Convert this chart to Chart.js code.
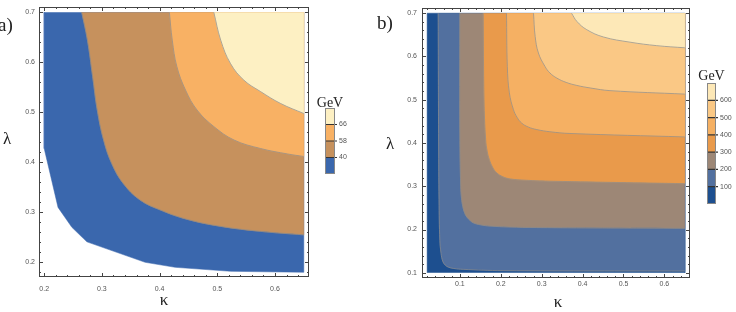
<!DOCTYPE html>
<html lang="en">
<head>
<meta charset="UTF-8">
<title>Contour maps</title>
<script src="https://cdn.jsdelivr.net/npm/chart.js"></script>
<style>
    body { margin: 0; background: #fff; }
    .panel { position: absolute; top: 0; }
    #panelA { left: 0; }
    #panelB { left: 370px; }
</style>
</head>
<body>
<div class="panel" id="panelA"><canvas id="chartA" width="370" height="312"></canvas></div>
<div class="panel" id="panelB"><canvas id="chartB" width="366" height="312"></canvas></div>
<script>
// ---- panel a) : edge of the computed region + contours 40 / 58 / 66 GeV ----
const aEdgeK = [0.2, 0.2, 0.224, 0.248, 0.274, 0.375, 0.427, 0.523, 0.65, 0.65];
const aEdgeL = [0.7, 0.427, 0.309, 0.269, 0.24, 0.199, 0.189, 0.181, 0.179, 0.7];
const a40K = [0.265, 0.275, 0.284, 0.292, 0.303, 0.317, 0.337, 0.366, 0.401, 0.448, 0.506, 0.575, 0.65];
const a40L = [0.7, 0.644, 0.571, 0.504, 0.444, 0.397, 0.357, 0.324, 0.304, 0.285, 0.271, 0.261, 0.254];
const a58K = [0.417, 0.422, 0.430, 0.445, 0.465, 0.494, 0.529, 0.575, 0.622, 0.65];
const a58L = [0.7, 0.644, 0.591, 0.544, 0.504, 0.471, 0.444, 0.427, 0.416, 0.411];
const a66K = [0.494, 0.506, 0.523, 0.546, 0.575, 0.610, 0.65];
const a66L = [0.7, 0.644, 0.597, 0.564, 0.541, 0.517, 0.497];
const aColors = ['#3a67ad', '#c6915d', '#f8b164', '#fdf0c3'];
const aLegend = ['40', '58', '66'];

// ---- panel b) : contours 100 ... 600 GeV ----
const bEdgeK = [0.02, 0.02, 0.65, 0.65];
const bEdgeL = [0.1, 0.7, 0.7, 0.1];
const b100K = [0.047, 0.048, 0.049, 0.051, 0.054, 0.058, 0.064, 0.072, 0.085, 0.108, 0.206, 0.65];
const b100L = [0.7, 0.4, 0.269, 0.175, 0.145, 0.127, 0.118, 0.113, 0.110, 0.108, 0.105, 0.104];
const b200K = [0.100, 0.100, 0.102, 0.104, 0.107, 0.111, 0.117, 0.125, 0.133, 0.150, 0.174, 0.22, 0.288, 0.65];
const b200L = [0.7, 0.423, 0.300, 0.272, 0.254, 0.240, 0.229, 0.221, 0.2155, 0.211, 0.208, 0.206, 0.2046, 0.203];
const b300K = [0.157, 0.159, 0.163, 0.167, 0.172, 0.180, 0.190, 0.205, 0.223, 0.26, 0.328, 0.65];
const b300L = [0.7, 0.5, 0.408, 0.380, 0.362, 0.344, 0.331, 0.322, 0.317, 0.314, 0.3116, 0.306];
const b400K = [0.214, 0.216, 0.221, 0.231, 0.240, 0.251, 0.267, 0.288, 0.32, 0.369, 0.65];
const b400L = [0.7, 0.577, 0.516, 0.477, 0.459, 0.446, 0.437, 0.431, 0.426, 0.422, 0.414];
const b500K = [0.280, 0.284, 0.292, 0.308, 0.320, 0.337, 0.360, 0.386, 0.42, 0.467, 0.65];
const b500L = [0.7, 0.6465, 0.608, 0.577, 0.562, 0.55, 0.54, 0.533, 0.527, 0.521, 0.513];
const b600K = [0.373, 0.386, 0.41, 0.451, 0.516, 0.581, 0.65];
const b600L = [0.7, 0.681, 0.662, 0.645, 0.633, 0.625, 0.62];
const bColors = ['#1d4f8f', '#52709f', '#9d8776', '#e99a4b', '#f5b063', '#fac885', '#fde8b7'];
const bLegend = ['100', '200', '300', '400', '500', '600'];

const K_MAX = 0.65, L_MAX = 0.7;
const SMOOTH = 0.4;
const lineColor = 'rgba(140,140,140,0.7)';
const tickFont = { family: 'Liberation Sans', size: 7, lineHeight: 1.2 };
const serif = '"Liberation Serif", "DejaVu Serif", serif';

const isMajor = v => Math.abs(v * 10 - Math.round(v * 10)) < 1e-6;

function zip(ks, ls) { return ks.map((k, i) => ({ x: k, y: ls[i] })); }
// region above a contour: the curve, then along the right edge to the top-right corner.
// the end point is repeated so the spline keeps the same shape as the contour line
function upperSet(ks, ls) {
    const p = zip(ks, ls);
    return p.concat([{ x: ks[ks.length - 1], y: ls[ls.length - 1] }, { x: K_MAX, y: L_MAX }]);
}

function region(points, color, order, tension) {
    return { data: points, fill: 'shape', backgroundColor: color, borderColor: color,
             borderWidth: 0.5, pointRadius: 0, tension: tension, order: order };
}
function contour(points) {
    return { data: points, fill: false, borderColor: lineColor, borderWidth: 1,
             pointRadius: 0, tension: SMOOTH, order: 0 };
}

function axes(xr, yr, s) {
    const fixPad = sc => { sc.paddingTop = 0; sc.paddingBottom = 0; sc.paddingLeft = 0; sc.paddingRight = 0; };
    return {
        x: {
            type: 'linear', min: xr[0], max: xr[1],
            grid: { display: false, drawTicks: false }, border: { display: false },
            ticks: { stepSize: 0.02, includeBounds: false, autoSkip: false, maxRotation: 0,
                     padding: s.xPad, color: '#555', font: tickFont,
                     callback: v => isMajor(v) ? v.toFixed(1) : '' },
            afterFit: sc => { sc.height = s.xH; fixPad(sc); }
        },
        y: {
            type: 'linear', min: yr[0], max: yr[1],
            grid: { display: false, drawTicks: false }, border: { display: false },
            ticks: { stepSize: 0.02, includeBounds: false, autoSkip: false,
                     padding: s.yPad, color: '#555', font: tickFont,
                     callback: v => isMajor(v) ? v.toFixed(1) : '' },
            afterFit: sc => { sc.width = s.yW; fixPad(sc); }
        }
    };
}

// frame with inward ticks on all sides, axis symbols, panel tag and colour bar
function decor(d) {
    return {
        id: 'decor',
        afterDraw(chart) {
            const { ctx, chartArea: a, scales: { x, y } } = chart;
            ctx.save();
            ctx.strokeStyle = '#444';
            ctx.lineWidth = 1;
            ctx.strokeRect(a.left + 0.5, a.top + 0.5, a.right - a.left - 1, a.bottom - a.top - 1);
            ctx.beginPath();
            x.ticks.forEach(t => {
                const p = Math.round(x.getPixelForValue(t.value)) + 0.5;
                const len = isMajor(t.value) ? 4 : 2;
                ctx.moveTo(p, a.bottom); ctx.lineTo(p, a.bottom - len);
                ctx.moveTo(p, a.top); ctx.lineTo(p, a.top + len);
            });
            y.ticks.forEach(t => {
                const p = Math.round(y.getPixelForValue(t.value)) + 0.5;
                const len = isMajor(t.value) ? 4 : 2;
                ctx.moveTo(a.left, p); ctx.lineTo(a.left + len, p);
                ctx.moveTo(a.right, p); ctx.lineTo(a.right - len, p);
            });
            ctx.stroke();

            ctx.fillStyle = '#222';
            ctx.textBaseline = 'alphabetic';
            ctx.font = '19px ' + serif;
            ctx.textAlign = 'left';
            ctx.fillText(d.tag, d.tagX, d.tagY);
            ctx.textAlign = 'center';
            ctx.font = '17px ' + serif;
            ctx.fillText('λ', d.lamX, d.lamY);
            ctx.fillText('κ', d.kapX, d.kapY);
            ctx.font = '14px ' + serif;
            ctx.fillText('GeV', d.barX + d.barW / 2, d.gevY);

            // colour bar, lowest level at the bottom
            const n = d.colors.length;
            const h = (d.barB - d.barT) / n;
            d.colors.forEach((c, i) => {
                ctx.fillStyle = c;
                ctx.fillRect(d.barX, d.barB - (i + 1) * h, d.barW, h);
            });
            ctx.strokeStyle = '#333';
            ctx.lineWidth = 1.2;
            ctx.beginPath();
            for (let i = 1; i < n; i++) {
                const yy = d.barB - i * h;
                ctx.moveTo(d.barX, yy); ctx.lineTo(d.barX + d.barW + 2, yy);
            }
            ctx.stroke();
            ctx.strokeStyle = '#888';
            ctx.lineWidth = 1;
            ctx.strokeRect(d.barX + 0.5, d.barT + 0.5, d.barW - 1, d.barB - d.barT - 1);
            ctx.fillStyle = '#555';
            ctx.font = '7px "Liberation Sans"';
            ctx.textAlign = 'left';
            ctx.textBaseline = 'middle';
            d.labels.forEach((l, i) => ctx.fillText(l, d.barX + d.barW + 4, d.barB - (i + 1) * h));
            ctx.restore();
        }
    };
}

function makeChart(id, datasets, xr, yr, sizes, pad, d) {
    new Chart(document.getElementById(id), {
        type: 'line',
        data: { datasets: datasets },
        options: {
            responsive: false, animation: false, devicePixelRatio: 1, events: [],
            layout: { padding: pad },
            plugins: { legend: { display: false }, tooltip: { enabled: false } },
            scales: axes(xr, yr, sizes)
        },
        plugins: [decor(d)]
    });
}

makeChart('chartA', [
    region(zip(aEdgeK, aEdgeL), aColors[0], 10, 0),
    region(upperSet(a40K, a40L), aColors[1], 9, SMOOTH),
    region(upperSet(a58K, a58L), aColors[2], 8, SMOOTH),
    region(upperSet(a66K, a66L), aColors[3], 7, SMOOTH),
    contour(zip(a40K, a40L)),
    contour(zip(a58K, a58L)),
    contour(zip(a66K, a66L))
], [0.191, 0.659], [0.1696, 0.7104],
   { xH: 35, yW: 39, xPad: 8, yPad: 4 },
   { left: 0, top: 7, right: 61, bottom: 0 },
   { tag: 'a)', tagX: -2, tagY: 31, lamX: 7, lamY: 144, kapX: 164, kapY: 305, gevY: 107,
     barX: 325, barW: 10, barT: 108, barB: 174, colors: aColors, labels: aLegend });

makeChart('chartB', [
    region(zip(bEdgeK, bEdgeL), bColors[0], 16, 0),
    region(upperSet(b100K, b100L), bColors[1], 15, SMOOTH),
    region(upperSet(b200K, b200L), bColors[2], 14, SMOOTH),
    region(upperSet(b300K, b300L), bColors[3], 13, SMOOTH),
    region(upperSet(b400K, b400L), bColors[4], 12, SMOOTH),
    region(upperSet(b500K, b500L), bColors[5], 11, SMOOTH),
    region(upperSet(b600K, b600L), bColors[6], 10, SMOOTH),
    contour(zip(b100K, b100L)),
    contour(zip(b200K, b200L)),
    contour(zip(b300K, b300L)),
    contour(zip(b400K, b400L)),
    contour(zip(b500K, b500L)),
    contour(zip(b600K, b600L))
], [0.0074, 0.6626], [0.088, 0.712],
   { xH: 34, yW: 52, xPad: 2, yPad: 5 },
   { left: 0, top: 8, right: 46, bottom: 0 },
   { tag: 'b)', tagX: 7, tagY: 29, lamX: 20, lamY: 149, kapX: 188, kapY: 307, gevY: 80,
     barX: 337, barW: 9, barT: 83, barB: 204, colors: bColors, labels: bLegend });
</script>
</body>
</html>
